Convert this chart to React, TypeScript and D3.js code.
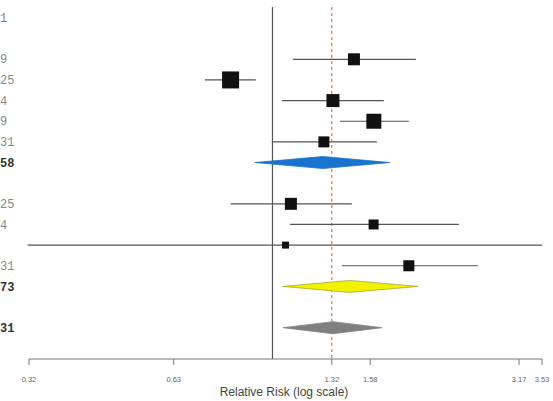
import React from "react";
import * as d3 from "d3";

const rowLabels = ["1", "", "9", "25", "4", "9", "31", "58", "", "25", "4", "", "31", "73", "", "31"];
const boldRows = [7, 13, 15];

// studies: row index, estimate, lower, upper, weight
const studyRows = [2, 3, 4, 5, 6, 9, 10, 11, 12];
const studyEst = [1.464, 0.822, 1.327, 1.607, 1.272, 1.090, 1.605, 1.063, 1.893];
const studyLo = [1.10, 0.729, 1.045, 1.371, 0.997, 0.822, 1.085, 0.318, 1.384];
const studyHi = [1.956, 0.925, 1.684, 1.893, 1.630, 1.450, 2.392, 3.53, 2.615];
const studyWeight = [14.4, 28.9, 16.9, 22.5, 12.1, 14.4, 10.0, 4.9, 12.1];

// pooled diamonds
const poolRows = [7, 13, 15];
const poolEst = [1.266, 1.436, 1.327];
const poolLo = [0.921, 1.050, 1.050];
const poolHi = [1.732, 1.975, 1.669];
const poolColors = ["#1874cd", "#f2f200", "#808080"];
const poolStroke = ["#1874cd", "#a8a830", "#808080"];

const tickValues = [0.32, 0.63, 1.32, 1.58, 3.17, 3.53];
const overallEffect = 1.32;
const axisTitle = "Relative Risk (log scale)";

export default function App() {
  const W = 553;
  const H = 401;
  const x = d3.scaleLog().domain([0.32, 3.53]).range([29, 542]);
  const y = d3.scaleLinear().domain([0, 15]).range([18, 327.7]);
  const size = d3.scaleSqrt().domain([0, 28.9]).range([0, 17]);
  const axisY = 359;
  const fmt = (v: number) => v.toFixed(2);

  return (
    <svg width={W} height={H} style={{ position: "absolute", left: 0, top: 0, background: "#fff" }}>
      {rowLabels.map((l, i) => (
        <text
          key={"l" + i}
          x={0}
          y={y(i)}
          dy="0.35em"
          fontFamily="Liberation Mono, DejaVu Sans Mono, monospace"
          fontSize={12}
          fontWeight={boldRows.includes(i) ? "bold" : "normal"}
          fill={boldRows.includes(i) ? "#333" : "#888"}
        >
          {l}
        </text>
      ))}

      {/* null line */}
      <line x1={x(1)} x2={x(1)} y1={7} y2={axisY} stroke="#555" strokeWidth={1.2} />
      {/* overall effect dashed line */}
      <line
        x1={x(overallEffect)}
        x2={x(overallEffect)}
        y1={7}
        y2={axisY}
        stroke="#f07040"
        strokeWidth={1.2}
        strokeDasharray="3,3"
      />

      {studyRows.map((r, i) => {
        const s = size(studyWeight[i]);
        return (
          <g key={"s" + i}>
            <line
              x1={x(studyLo[i])}
              x2={x(studyHi[i])}
              y1={y(r)}
              y2={y(r)}
              stroke="#555"
              strokeWidth={1.2}
            />
            <rect x={x(studyEst[i]) - s / 2} y={y(r) - s / 2} width={s} height={s} fill="#111" />
          </g>
        );
      })}

      {poolRows.map((r, i) => {
        const cy = y(r);
        const hh = 6;
        const pts = [
          [x(poolLo[i]), cy],
          [x(poolEst[i]), cy - hh],
          [x(poolHi[i]), cy],
          [x(poolEst[i]), cy + hh],
        ];
        return (
          <polygon
            key={"p" + i}
            points={pts.map((p) => p.join(",")).join(" ")}
            fill={poolColors[i]}
            stroke={poolStroke[i]}
            strokeWidth={0.8}
          />
        );
      })}

      {/* axis */}
      <line x1={x(0.32)} x2={x(3.53)} y1={axisY} y2={axisY} stroke="#777" strokeWidth={1.2} />
      {tickValues.map((t, i) => (
        <g key={"t" + i}>
          <line x1={x(t)} x2={x(t)} y1={axisY} y2={axisY + 6} stroke="#777" strokeWidth={1} />
          <text
            x={x(t)}
            y={382}
            textAnchor="middle"
            fontFamily="Liberation Sans, Arial, sans-serif"
            fontSize={7.5}
            fill="#666"
          >
            {fmt(t)}
          </text>
        </g>
      ))}
      <text
        x={284}
        y={396}
        textAnchor="middle"
        fontFamily="Liberation Sans, Arial, sans-serif"
        fontSize={12}
        fill="#444"
      >
        {axisTitle}
      </text>
    </svg>
  );
}
